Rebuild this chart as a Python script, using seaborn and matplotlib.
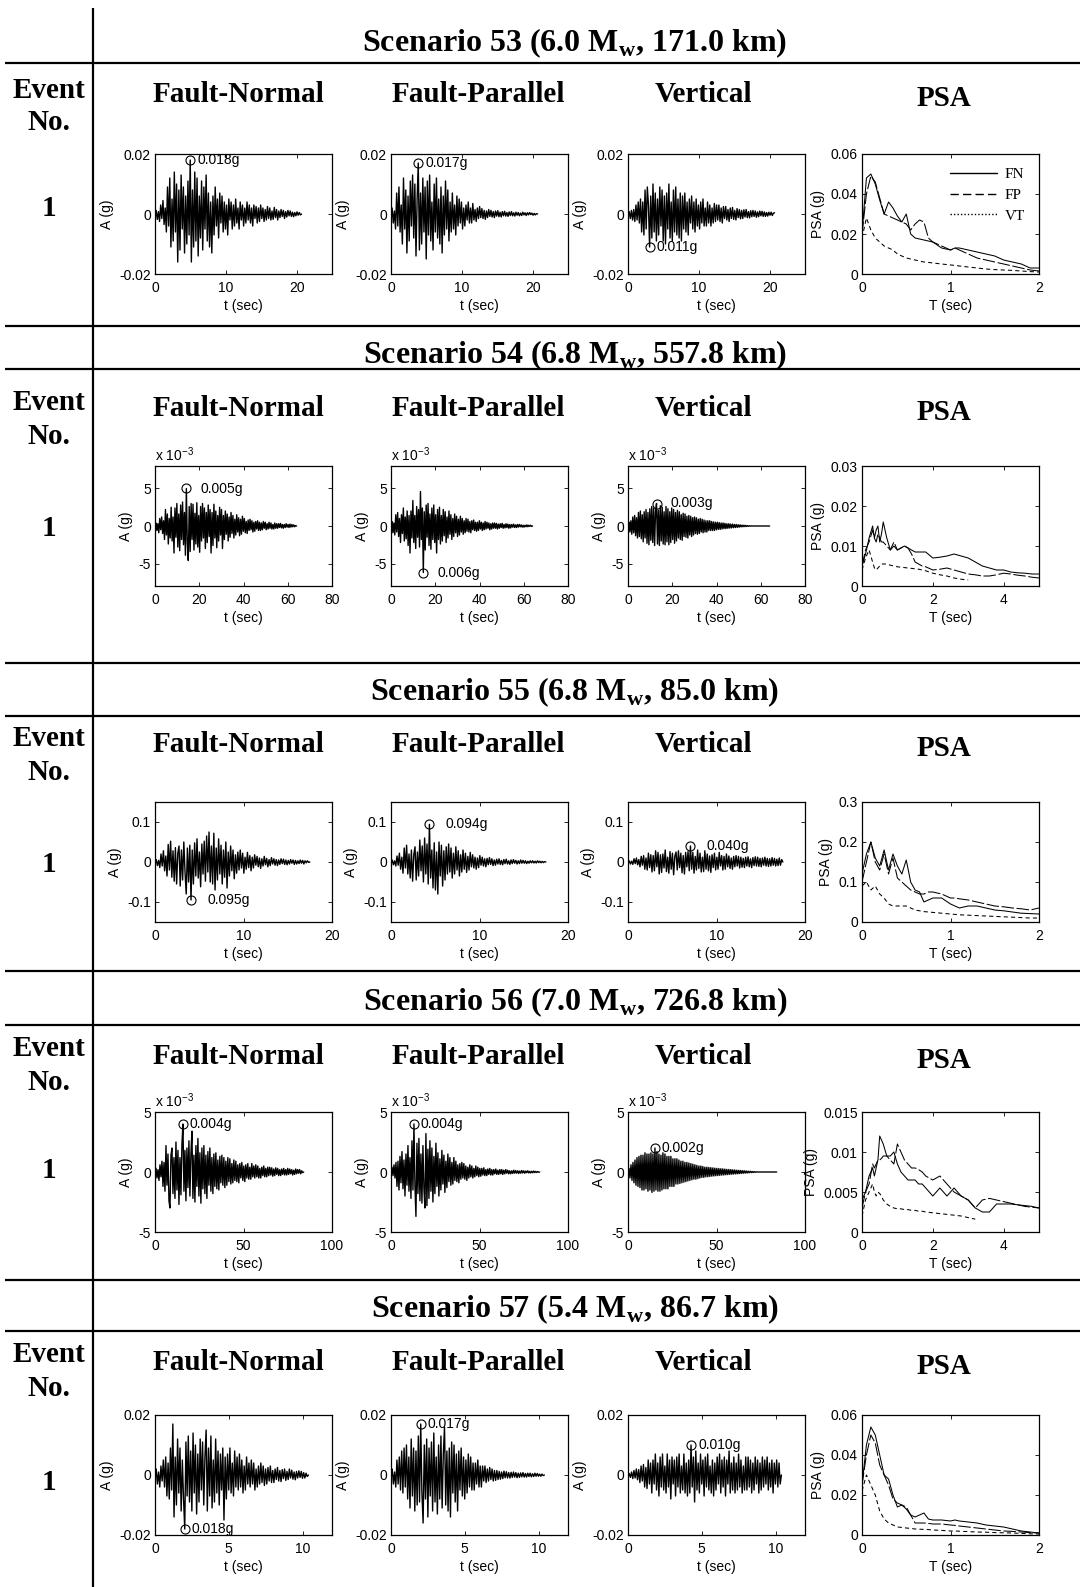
import numpy as np
import matplotlib
matplotlib.use("Agg")
import matplotlib.pyplot as plt
from matplotlib.lines import Line2D
from matplotlib.ticker import FuncFormatter
import seaborn as sns

# ------------------------------------------------------------------ data
TITLES = ["Scenario 53 (6.0 M$_{\\mathregular{w}}$, 171.0 km)",
          "Scenario 54 (6.8 M$_{\\mathregular{w}}$, 557.8 km)",
          "Scenario 55 (6.8 M$_{\\mathregular{w}}$, 85.0 km)",
          "Scenario 56 (7.0 M$_{\\mathregular{w}}$, 726.8 km)",
          "Scenario 57 (5.4 M$_{\\mathregular{w}}$, 86.7 km)"]
COL_HEADERS = ["Fault-Normal", "Fault-Parallel", "Vertical", "PSA"]
EVENT_NO = "1"

# record durations (s)
DURATIONS = [20.7, 64.0, 17.5, 84.0, 10.4]

# accelerations in milli-g (1e-3 g), equally spaced samples over each duration
S53_FN = [0, 1.2, -1.8, 0.8, -2.5, 3, -1.5, 4.5, -3.5, 2,
          -6, 9, -4, 12, -11, 5, -9, 14, -6, 10,
          -16, 8, -12, 13, -5, 9, -13, 6, -10, 11,
          -7, 18, -16, 8, -11, 14, -9, 12, -14, 6,
          -8, 11, -12, 9, -5, 13, -9, 7, -11, 4,
          -13, 6, -7, 9, -4, 5, -8, 7, -3, 6,
          -6, 4, -5, 3, -7, 5, -2, 4, -5, 3,
          -4, 5, -3, 2, -5, 4, -2, 3, -4, 2,
          -3, 4, -2, 3, -3, 2, -4, 3, -1.5, 2.5,
          -3, 2, -2.5, 3, -1.5, 2, -2.5, 1.5, -2, 2.5,
          -1.5, 2, -2, 1, -1.8, 2.2, -1.2, 1.5, -2, 1,
          -1.2, 1.5, -0.8, 1.2, -1.5, 0.8, -1, 1.2, -0.6, 1,
          -0.8, 0.6, -0.9, 0.5, -0.6, 0.7, -0.4, 0.5, -0.3, 0]
S53_FP = [0, 2, -3, 1, -5, 7, -4, 9, -6, 3,
          -10, 12, -5, 8, -13, 6, -9, 11, -4, 13,
          -8, 10, -14, 5, 17, -12, 7, -10, 12, -6,
          9, -15, 11, -7, 13, -9, 4, -12, 10, -6,
          12, -8, 5, -10, 9, -13, 6, -7, 11, -5,
          8, -9, 4, -6, 7, -5, 3, -7, 6, -4,
          5, -3, 4, -5, 2, -4, 3, -2, 4, -3,
          2, -3, 3.5, -2, 1.5, -2.5, 2, -1.5, 2.5, -1.2,
          1.8, -1.5, 1.2, -1.8, 1, -1.2, 1.5, -0.8, 1.2, -1,
          0.8, -1.2, 1, -0.7, 1.1, -0.9, 0.6, -1, 0.8, -0.6,
          0.9, -0.7, 0.5, -0.8, 0.7, -0.5, 0.8, -0.6, 0.4, -0.7,
          0.6, -0.4, 0.5, -0.6, 0.3, -0.5, 0.6, -0.3, 0.4, -0.5,
          0.4, -0.3, 0.5, -0.2, 0.3, -0.4, 0.2, -0.3, 0.1, 0]
S53_VT = [0, 0.8, -1.5, 1.2, -2, 1.5, -2.5, 3, -2, 4,
          -3, 5, -6, 4, -7, 8, -5, 9, 3, -11,
          6, -8, 10, -6, 7, -9, 5, -7, 9, -4,
          8, -9, 6, -10, 7, -5, 10, -8, 4, -9,
          8, -6, 9, -7, 5, -8, 7, -9, 6, -5,
          7, -6, 4, -7, 5, -3, 6, -5, 4, -6,
          5, -4, 3, -5, 4, -3, 5, -4, 2, -4,
          4, -3, 3, -4, 2, -3, 3.5, -2.5, 3, -2,
          3, -2.5, 2, -3, 2.5, -1.5, 2.5, -2, 1.5, -2.5,
          2, -1.5, 2.2, -1.8, 1.2, -2, 1.8, -1.2, 1.5, -1.6,
          1.2, -1.5, 1.4, -1, 1.5, -1.2, 0.8, -1.3, 1.1, -0.9,
          1.2, -0.8, 1, -1.1, 0.7, -0.9, 1, -0.6, 0.9, -0.8,
          0.7, -0.8, 0.5, -0.7, 0.6, -0.4, 0.6, -0.5, 0.3, 0.4]

S54_FN = [0, 0.4, -0.6, 0.3, -0.9, 1, -0.5, 1.2, -1, 0.7,
          -1.8, 2.2, -1.2, 1.6, -2.4, 1, -1.6, 2.5, -2, 1.2,
          -3.6, 2.4, -1.5, 3, -2.8, 1.6, -3.3, 2.8, -1.8, 3.2,
          -2.5, 1.8, -3.9, 5, -2.2, -4.6, 2.6, -3.4, 3, -1.8,
          2.9, -3.2, 1.7, -2.4, 3.1, -2.8, 1.4, -3.5, 2.6, -2,
          3, -1.6, 2.4, -3, 1.8, -2.2, 2.8, -1.4, 2.2, -3.6,
          1.8, -2.6, 2.9, -1.6, 2, -2.9, 1.4, -2, 2.5, -1.2,
          2.2, -3, 1.4, -1.8, 2, -1.1, 1.6, -2, 1.2, -1.5,
          1.8, -1, 1.4, -1.6, 0.9, -1.2, 1.5, -0.8, 1.1, -1.3,
          0.9, -1.1, 1.3, -0.7, 1, -0.9, 0.6, -1, 0.8, -0.6,
          0.9, -0.5, 0.7, -0.8, 0.5, -0.7, 0.6, -0.4, 0.7, -0.6,
          0.5, -0.6, 0.4, -0.5, 0.6, -0.3, 0.5, -0.5, 0.3, -0.4,
          0.5, -0.3, 0.4, -0.4, 0.2, -0.4, 0.4, -0.3, 0.3, -0.3,
          0.3, -0.2, 0.35, -0.25, 0.2, -0.3, 0.2, -0.2, 0.3, -0.15,
          0.2, -0.2, 0.25, -0.15, 0.2, -0.1, 0.15, -0.1, 0.05, 0]
S54_FP = [0, 0.6, -0.9, 0.4, -1.2, 1.5, -0.8, 1.8, -1.4, 1,
          -2.2, 1.5, -1, 2.4, -2, 1.2, -1.7, 2, -2.6, 1.4,
          -3.6, 2, -1.6, 3.4, -2.2, 1.4, -3, 2.6, -1.5, 2.2,
          -2.8, 4.6, -1.8, 2.4, -6.2, 1.9, -3.2, 2.8, -1.5, 3,
          -2.6, 1.6, -3.1, 2.4, -1.8, 2.8, -2.2, 1.5, -3.6, 2.2,
          -1.8, 2.5, -2.4, 1.4, -2, 2.2, -1.3, 1.9, -2.2, 1.2,
          -1.6, 2, -1.1, 1.5, -1.8, 1, -1.4, 1.6, -0.9, 1.3,
          -1.4, 0.9, -1.2, 1.3, -0.8, 1, -1.1, 0.7, -0.9, 1,
          -0.7, 0.9, -0.8, 0.6, -0.9, 0.7, -0.5, 0.8, -0.6, 0.5,
          -0.7, 0.5, -0.6, 0.7, -0.4, 0.5, -0.6, 0.4, -0.5, 0.6,
          -0.4, 0.5, -0.3, 0.4, -0.5, 0.3, -0.4, 0.4, -0.3, 0.4,
          -0.3, 0.35, -0.4, 0.25, -0.3, 0.3, -0.2, 0.35, -0.3, 0.2,
          -0.25, 0.3, -0.2, 0.25, -0.3, 0.2, -0.25, 0.2, -0.15, 0.25,
          -0.2, 0.15, -0.2, 0.2, -0.15, 0.2, -0.1, 0.15, -0.15, 0.1,
          -0.15, 0.1, -0.1, 0.15, -0.1, 0.1, -0.05, 0.1, -0.05, 0]
S54_VT = [0, 0.5, -0.8, 0.7, -1.1, 1.2, -0.9, 1.4, -1.3, 1.1,
          -1.6, 1.8, -1.4, 2, -1.7, 1.5, -2.1, 1.9, -1.6, 2.2,
          -2.3, 1.8, -2.5, 2.3, -1.9, 2.6, -2.2, 2.4, -2.6, 2,
          3, -2.4, 2.1, -2.6, 2.7, -2, 2.5, -2.4, 1.9, -2.5,
          2.6, -2.1, 2.3, -2.5, 1.9, -2.2, 2.4, -1.8, 2.2, -2.3,
          1.8, -2, 2.1, -1.6, 1.9, -1.8, 1.5, -1.9, 1.7, -1.4,
          1.6, -1.5, 1.3, -1.6, 1.4, -1.2, 1.3, -1.4, 1.1, -1.2,
          1.2, -1, 1.1, -1.1, 0.9, -1, 1, -0.8, 0.9, -0.9,
          0.8, -0.8, 0.7, -0.8, 0.7, -0.6, 0.7, -0.6, 0.6, -0.6,
          0.55, -0.6, 0.5, -0.5, 0.5, -0.45, 0.45, -0.45, 0.4, -0.4,
          0.4, -0.35, 0.35, -0.35, 0.3, -0.3, 0.3, -0.28, 0.25, -0.25,
          0.25, -0.22, 0.2, -0.2, 0.2, -0.18, 0.16, -0.15, 0.15, -0.12,
          0.12, -0.1, 0.1, -0.08, 0.08, -0.06, 0.05, -0.04, 0.03, -0.02,
          0.02, 0, 0, 0, 0, 0, 0, 0, 0, 0,
          0, 0, 0, 0, 0, 0, 0, 0, 0, 0]

S55_FN = [0, 6, -9, 4, -14, 20, -10, 28, -22, 15,
          -35, 44, -20, 52, -38, 28, -48, 36, -55, 22,
          40, -60, 30, -45, 50, -25, -80, 35, -50, 42,
          -95, 30, -55, 48, -35, 58, -40, 25, -62, 45,
          -30, 52, -48, 65, -25, 75, -50, 40, -55, 72,
          -70, 35, -45, 58, -30, 42, -55, 30, -38, 50,
          -65, 25, -35, 40, -22, 30, -42, 18, -28, 25,
          -20, 30, -15, 22, -28, 12, -18, 24, -14, 16,
          -22, 12, -15, 18, -8, 14, -12, 10, -16, 8,
          -10, 14, -7, 9, -12, 6, -9, 11, -5, 8,
          -8, 6, -9, 5, -6, 8, -4, 7, -6, 5,
          -7, 4, -5, 6, -3, 5, -6, 4, -5, 3,
          -4, 5, -3, 4, -5, 3, -2, 3, -1, 0]
S55_FP = [0, 5, -7, 3, -10, 15, -8, 22, -18, 12,
          -28, 35, -15, 42, -30, 20, -40, 30, -48, 18,
          38, -45, 25, -35, 55, -22, 40, -50, 60, -30,
          45, -55, 94, -40, 30, -65, 48, -70, 25, -80,
          50, -35, 42, -60, 28, -45, 38, -30, 45, -25,
          35, -40, 22, -30, 38, -20, 28, -35, 18, -25,
          30, -18, 22, -26, 14, -20, 24, -12, 18, -15,
          12, -18, 10, -14, 16, -8, 12, -10, 8, -12,
          9, -7, 11, -6, 8, -9, 5, -8, 7, -5,
          8, -6, 4, -7, 6, -4, 7, -5, 3, -6,
          5, -4, 6, -3, 4, -5, 3, -4, 5, -3,
          4, -3, 3, -4, 2, -3, 3, -2, 3, -2.5,
          2, -2.5, 3, -1.5, 2, -2, 1.5, -1.5, 1, 0]
S55_VT = [0, 3, -5, 2, -6, 8, -4, 10, -7, 6,
          -12, 14, -8, 16, -18, 10, -20, 22, -14, 18,
          -25, 16, -22, 28, -12, 24, -30, 18, -26, 20,
          -15, 30, -24, 12, -28, 26, -18, 22, -32, 14,
          25, -20, 28, -14, 22, -27, 16, -30, 24, -12,
          26, -22, 40, -18, 24, -28, 14, -20, 30, -16,
          22, -25, 12, -24, 28, -18, 20, -22, 15, -26,
          18, -14, 22, -20, 12, -18, 24, -10, 16, -20,
          14, -18, 20, -12, 15, -16, 10, -18, 14, -12,
          16, -10, 14, -15, 12, -13, 9, -14, 12, -10,
          13, -12, 8, -14, 11, -9, 13, -10, 12, -11,
          9, -12, 10, -8, 12, -10, 9, -11, 8, -10,
          11, -8, 9, -10, 7, -9, 10, -8, 6, 0]

S56_FN = [0, 0.3, -0.5, 0.2, -0.7, 0.6, -0.4, 0.9, -1.2, 0.8,
          -1.6, 2.2, -1.1, 1.5, -2.4, -3, 1.4, 2, -1.8, 1.2,
          -2.2, 2.5, -1.5, 1.8, -2.7, 1.2, -1.9, 2.3, 4, -1.6,
          1.8, -2.4, 2, -1.3, 2.6, -2, 1.5, 3.4, -2.2, 1.4,
          -2.5, 2.2, -1.2, 2.8, -2, 1.6, -2.6, 2, -1.4, 2.2,
          -1.8, 1.4, -2.2, 1.7, -1.1, 2, -1.6, 1.2, -1.8, 1.5,
          -1.2, 1.6, -1.4, 1, -1.5, 1.3, -0.9, 1.4, -1.1, 1.2,
          -1.3, 0.9, -1.1, 1.2, -0.8, 1.1, -1, 0.7, -0.9, 1,
          -0.7, 0.9, -0.8, 0.6, -0.9, 0.7, -0.5, 0.8, -0.7, 0.5,
          -0.8, 0.6, -0.5, 0.7, -0.6, 0.4, -0.6, 0.7, -0.4, 0.5,
          -0.5, 0.6, -0.4, 0.5, -0.5, 0.3, -0.5, 0.4, -0.3, 0.5,
          -0.4, 0.3, -0.4, 0.4, -0.3, 0.4, -0.25, 0.35, -0.35, 0.25,
          -0.3, 0.35, -0.2, 0.3, -0.3, 0.2, -0.3, 0.25, -0.2, 0.3,
          -0.25, 0.2, -0.25, 0.3, -0.2, 0.25, -0.15, 0.2, -0.25, 0.15,
          -0.2, 0.25, -0.15, 0.2, -0.1, 0.2, -0.15, 0.1, -0.05, 0]
S56_FP = [0, 0.4, -0.3, 0.6, -0.5, 0.8, -1.2, 0.9, -1.5, 1.3,
          -0.9, 1.7, -1.4, 1, -2, 1.5, -1.1, 2.2, -1.6, 1.2,
          -2.2, 2.6, -1.5, 4, -1.2, -3.7, 2.4, -1.8, 2.8, -2.4,
          1.5, -2.6, 2.2, -1.4, -3, 3.2, -2.8, 1.9, -2.2, 2.6,
          -1.6, 2, -2.5, 1.3, -1.8, 2.4, -1.2, 1.6, -2, 1.1,
          -1.5, 1.8, -1, 1.4, -1.7, 0.9, -1.3, 1.5, -0.8, 1.2,
          -1.1, 0.8, -1, 1.2, -0.7, 0.9, -0.8, 0.6, -0.9, 0.7,
          -0.6, 0.8, -0.5, 0.7, -0.6, 0.5, -0.7, 0.4, -0.5, 0.6,
          -0.4, 0.5, -0.5, 0.3, -0.4, 0.5, -0.3, 0.4, -0.4, 0.3,
          -0.35, 0.3, -0.25, 0.35, -0.3, 0.2, -0.3, 0.25, -0.2, 0.3,
          -0.25, 0.2, -0.25, 0.2, -0.15, 0.25, -0.2, 0.15, -0.2, 0.2,
          -0.15, 0.2, -0.2, 0.15, -0.15, 0.2, -0.1, 0.15, -0.15, 0.1,
          -0.15, 0.1, -0.12, 0.15, -0.1, 0.12, -0.1, 0.1, -0.12, 0.08,
          -0.1, 0.12, -0.08, 0.1, -0.1, 0.08, -0.06, 0.1, -0.08, 0.06,
          -0.08, 0.06, -0.06, 0.08, -0.05, 0.05, -0.04, 0.04, -0.02, 0]
S56_VT = [0, 0.3, -0.5, 0.6, -0.7, 0.8, -0.9, 1, -1.1, 1.2,
          -1.2, 1.3, -1.3, 1.4, -1.5, 1.4, -1.5, 1.6, -1.4, 1.5,
          -1.6, 1.5, -1.5, 1.6, -1.7, 1.5, -1.6, 2, -1.5, 1.7,
          -1.6, 1.5, -1.6, 1.4, -1.5, 1.6, -1.4, 1.5, -1.4, 1.3,
          -1.4, 1.3, -1.2, 1.3, -1.2, 1.1, -1.2, 1.1, -1, 1.1,
          -1, 1, -0.95, 0.9, -0.9, 0.9, -0.85, 0.8, -0.8, 0.8,
          -0.75, 0.75, -0.7, 0.7, -0.65, 0.65, -0.6, 0.6, -0.6, 0.55,
          -0.55, 0.5, -0.5, 0.5, -0.45, 0.45, -0.45, 0.4, -0.4, 0.4,
          -0.4, 0.38, -0.37, 0.36, -0.35, 0.34, -0.33, 0.32, -0.31, 0.3,
          -0.3, 0.29, -0.28, 0.27, -0.26, 0.26, -0.25, 0.24, -0.23, 0.22,
          -0.22, 0.21, -0.2, 0.2, -0.19, 0.18, -0.17, 0.17, -0.16, 0.15,
          -0.15, 0.14, -0.13, 0.13, -0.12, 0.11, -0.1, 0.1, -0.09, 0.08,
          -0.08, 0.07, -0.06, 0.06, -0.05, 0.04, -0.04, 0.03, -0.02, 0.01,
          0, 0, 0, 0, 0, 0, 0, 0, 0, 0,
          0, 0, 0, 0, 0, 0, 0, 0, 0, 0]

S57_FN = [0, 2, -3, 1, -4, 3, -2, 5, -4, 6,
          -7, 4, -8, 9, -5, 17, -14, 6, -10, 12,
          -6, 9, -12, 5, -8, -18, 11, -7, 13, -9,
          8, -12, 14, -6, 10, -13, 7, -9, 12, -5,
          11, -10, 6, 15, -12, 9, -7, 13, -11, 5,
          -9, 12, -6, 8, -10, 7, -5, 9, -15, 6,
          -8, 7, -5, 9, -6, 4, -7, 8, -4, 6,
          -5, 7, -4, 5, -6, 3, -5, 6, -3, 4,
          -4, 5, -3, 4, -5, 2, -4, 3, -3, 4,
          -2.5, 3, -3.5, 2, -3, 2.5, -2, 3, -2.5, 1.5,
          -2.5, 2, -1.5, 2.5, -2, 1.5, -2.2, 1.8, -1.2, 2,
          -1.8, 1.2, -1.5, 2, -1, 1.6, -1.4, 1, -1.6, 1.2,
          -1, 1.4, -0.8, 1.2, -1.1, 0.8, -1, 0.6, -0.5, 0]
S57_FP = [0, 2, -3, 1, -4, 5, -3, 6, -5, 8,
          -6, 9, -4, 10, -8, 6, -11, 12, -7, 9,
          -12, 8, -10, 13, -9, 17, -6, -16, 10, -8,
          12, -14, 9, -7, 11, -12, 14, -9, 6, -13,
          10, -8, 13, -11, 7, 16, -10, 8, -12, 9,
          -14, 11, -6, 10, -9, 7, -12, 8, -5, 9,
          -7, 6, -8, 5, -6, 7, -4, 6, -5, 4,
          -5, 4, -3, 5, -4, 3, -4, 3, -2, 3,
          -2.5, 2, -2, 2.5, -1.5, 2, -2, 1.5, -1.8, 1.5,
          -1.5, 1.2, -1.4, 1, -1.2, 1.3, -0.9, 1.1, -1, 0.8,
          -1, 0.9, -0.8, 1, -0.7, 0.8, -0.9, 0.6, -0.8, 0.7,
          -0.6, 0.8, -0.7, 0.5, -0.7, 0.6, -0.5, 0.6, -0.6, 0.4,
          -0.5, 0.6, -0.4, 0.5, -0.4, 0.3, -0.4, 0.3, -0.2, 0]
S57_VT = [0, 0.5, -0.8, 1, -1.2, 1.5, -1, 2, -1.6, 1.8,
          -2.5, 3, -2, 3.5, -4, 2.5, -4.5, 5, -3, 4,
          -6, 5, -3, 7, -5, 4, -7, 6, -4, 7,
          -5, 3, -6, 7, -4, 5, -8, 6, -3, 5,
          -7, 6, -4, 7, -6, 3, -5, 7, -6, 4,
          -7, 5, -6, 10, -4, 6, -9, 8, -5, 4,
          -6, 7, -3, 5, -7, 6, -4, 7, -5, 3,
          -6, 5, -7, 4, -5, 6, -3, 7, -6, 5,
          -4, 6, -7, 5, -3, 8, -6, 4, -5, 6,
          -6, 4, -5, 7, -4, 5, -6, 3, -5, 6,
          -5, 6, -4, 5, -6, 4, -5, 6, -3, 5,
          -6, 4, -5, 6, -4, 5, -3, 6, -5, 4,
          -4, 5, -6, 4, -3, 5, -4, 4, -3, 0]

# PSA periods (s)
PSA_T_SHORT = [0, 0.05, 0.1, 0.15, 0.2, 0.25, 0.3, 0.35, 0.4, 0.45,
               0.5, 0.55, 0.6, 0.65, 0.7, 0.75, 0.8, 0.9, 1.0, 1.05,
               1.1, 1.2, 1.3, 1.4, 1.5, 1.6, 1.7, 1.8, 1.9, 2.0]
PSA_T_LONG = [0, 0.1, 0.2, 0.3, 0.35, 0.4, 0.45, 0.5, 0.55, 0.6,
              0.7, 0.8, 0.9, 1.0, 1.1, 1.2, 1.3, 1.4, 1.5, 1.6,
              1.7, 1.8, 2.0, 2.2, 2.4, 2.6, 2.8, 3.0, 3.2, 3.4,
              3.6, 3.8, 4.0, 4.2, 4.4, 4.6, 4.8, 5.0]
NAN = float("nan")

S53_PSA_FN = [.020, .048, .050, .045, .037, .030, .036, .033, .029, .026,
              .030, .020, .018, .0175, .017, .0165, .016, .013, .012, .013,
              .013, .012, .011, .010, .009, .007, .006, .005, .003, .003]
S53_PSA_FP = [.020, .040, .049, .046, .038, .030, .029, .028, .027, .026,
              .025, .022, .025, .027, .026, .018, .016, .014, .012, .013,
              .012, .010, .008, .007, .006, .005, .004, .003, .002, .0015]
S53_PSA_VT = [.018, .028, .022, .018, .016, .014, .013, .012, .010, .009,
              .008, .0075, .007, .0065, .006, .0058, .0055, .005, .0045, .0043,
              .004, .0035, .003, .0025, .0022, .002, .0018, .0015, .0012, .001]

S54_PSA_FN = [.005, .008, .012, .015, .012, .014, .015, .011, .013, .016,
              .012, .009, .010, .009, .0095, .010, .0095, .009, .0085, .0085,
              .0085, .0085, .007, .0072, .0075, .008, .0075, .007, .006, .005,
              .0045, .004, .004, .0035, .0033, .0032, .003, .003]
S54_PSA_FP = [.005, .009, .011, .014, .012, .011, .013, .012, .011, .011,
              .010, .009, .011, .009, .0095, .010, .0095, .008, .006, .0055,
              .005, .0048, .004, .0042, .0045, .004, .0035, .003, .0028, .0025,
              .0025, .0028, .0032, .003, .0027, .0025, .0022, .002]
S54_PSA_VT = [.004, .007, .009, .006, .0045, .004, .0045, .005, .0055, .0055,
              .0055, .0052, .005, .0048, .0047, .0046, .0045, .0044, .0043, .0042,
              .004, .0038, .0032, .0028, .0025, .002, .0017, .0015, NAN, NAN,
              NAN, NAN, NAN, NAN, NAN, NAN, NAN, NAN]

S55_PSA_FN = [.12, .17, .20, .16, .14, .18, .13, .17, .14, .12,
              .155, .10, .08, .075, .05, .055, .06, .06, .045, .04,
              .035, .04, .04, .035, .03, .028, .025, .022, .021, .02]
S55_PSA_FP = [.10, .15, .20, .15, .13, .17, .12, .16, .11, .10,
              .09, .08, .075, .07, .07, .075, .075, .07, .06, .06,
              .058, .055, .05, .045, .04, .038, .035, .033, .03, .035]
S55_PSA_VT = [.09, .10, .08, .09, .07, .06, .045, .04, .04, .04,
              .04, .035, .03, .028, .026, .025, .024, .022, .02, .019,
              .018, .017, .016, .015, .014, .013, .012, .011, .01, .01]

S56_PSA_FN = [.004, .005, .007, .008, .007, .008, .009, .012, .0115, .011,
              .0095, .0095, .010, .0085, .0075, .007, .0065, .0065, .0065, .006,
              .006, .0055, .0045, .0055, .0045, .0055, .0045, .004, .003, .0025,
              .0025, .0035, .0035, .0035, .0034, .0033, .0032, .003]
S56_PSA_FP = [.003, .005, .006, .0085, .008, .0085, .009, .009, .0092, .0095,
              .0095, .009, .0085, .011, .010, .009, .0085, .008, .008, .0078,
              .0075, .007, .0065, .007, .006, .005, .0045, .004, .003, .004,
              .0042, .004, .0038, .0036, .0034, .0032, .0031, .003]
S56_PSA_VT = [.002, .004, .005, .006, .005, .0045, .005, .0048, .0045, .004,
              .0035, .0032, .003, .0029, .0029, .0028, .0028, .0027, .0027, .0026,
              .0026, .0025, .0024, .0023, .0022, .0021, .002, .0018, .0016, NAN,
              NAN, NAN, NAN, NAN, NAN, NAN, NAN, NAN]

S57_PSA_FN = [.025, .045, .054, .050, .040, .030, .028, .020, .014, .015,
              .013, .010, .009, .010, .011, .008, .0075, .0075, .007, .0075,
              .007, .0065, .006, .005, .0045, .004, .003, .002, .0015, .001]
S57_PSA_FP = [.025, .040, .050, .046, .035, .030, .025, .018, .016, .015,
              .014, .010, .006, .006, .006, .0058, .0055, .0055, .005, .0048,
              .0045, .004, .0035, .003, .0025, .002, .0018, .0015, .0012, .001]
S57_PSA_VT = [.022, .030, .025, .020, .012, .008, .006, .005, .004, .0038,
              .0035, .0033, .003, .0029, .0028, .0027, .0025, .0023, .002, .002,
              .0019, .0017, .0015, .0014, .0012, .0011, .001, .0008, .0006, .0005]

# axis settings / tick labels
TRACE_XLIM = [25, 80, 20, 100, 12]
TRACE_XTICKS = [[0, 10, 20], [0, 20, 40, 60, 80], [0, 10, 20], [0, 50, 100], [0, 5, 10]]
TRACE_YLIM = [0.02, 8, 0.15, 5, 0.02]
TRACE_YTICKS = [[-0.02, 0, 0.02], [-5, 0, 5], [-0.1, 0, 0.1], [-5, 0, 5], [-0.02, 0, 0.02]]
MILLI_AXIS = [False, True, False, True, False]
PSA_XLIM = [2, 5, 2, 5, 2]
PSA_XTICKS = [[0, 1, 2], [0, 2, 4], [0, 1, 2], [0, 2, 4], [0, 1, 2]]
PSA_YLIM = [0.06, 0.03, 0.3, 0.015, 0.06]
PSA_YTICKS = [[0, 0.02, 0.04, 0.06], [0, 0.01, 0.02, 0.03], [0, 0.1, 0.2, 0.3],
              [0, 0.005, 0.01, 0.015], [0, 0.02, 0.04, 0.06]]
LEGEND_LABELS = ["FN", "FP", "VT"]

TRACES = [(S53_FN, S53_FP, S53_VT), (S54_FN, S54_FP, S54_VT), (S55_FN, S55_FP, S55_VT),
          (S56_FN, S56_FP, S56_VT), (S57_FN, S57_FP, S57_VT)]
PSA_T = [PSA_T_SHORT, PSA_T_LONG, PSA_T_SHORT, PSA_T_LONG, PSA_T_SHORT]
PSA_SETS = [(S53_PSA_FN, S53_PSA_FP, S53_PSA_VT), (S54_PSA_FN, S54_PSA_FP, S54_PSA_VT),
            (S55_PSA_FN, S55_PSA_FP, S55_PSA_VT), (S56_PSA_FN, S56_PSA_FP, S56_PSA_VT),
            (S57_PSA_FN, S57_PSA_FP, S57_PSA_VT)]

# ------------------------------------------------------------------ layout (pixels)
W, H = 1080, 1587
ROW_TOPS = [154, 466, 802, 1112, 1415]
COL_LEFTS = [155, 391, 628, 862]
AX_W, AX_H = 177, 120
TITLE_X = 575
TITLE_Y = [43, 355, 692, 1002, 1309]
COLHEAD_X = [238, 478, 703, 944]
COLHEAD_Y = [95, 409, 745, 1056, 1362]
EVENT_Y = [90, 403, 739, 1049, 1355]
NO_Y = [122, 437, 772, 1082, 1389]
ONE_Y = [209, 528, 865, 1170, 1482]
HLINES = [63, 326, 369, 663, 716, 971, 1025, 1280, 1331]
LABEL_GAP = [7, 14, 16, 7, 7]
PSA_STYLES = ["-", (0, (12, 2.5)), (0, (4, 3))]

# ------------------------------------------------------------------ style
sns.set_style("ticks")
plt.rcParams["font.family"] = ["Liberation Sans", "DejaVu Sans"]
plt.rcParams.update({
    "font.size": 10,
    "axes.linewidth": 0.9,
    "axes.edgecolor": "black",
    "xtick.direction": "in", "ytick.direction": "in",
    "xtick.top": True, "ytick.right": True,
    "xtick.major.size": 3, "ytick.major.size": 3,
    "xtick.major.width": 0.6, "ytick.major.width": 0.6,
    "xtick.labelsize": 10, "ytick.labelsize": 10,
    "xtick.color": "black", "ytick.color": "black",
    "axes.labelsize": 10, "axes.labelcolor": "black",
    "text.color": "black",
})

fmt = FuncFormatter(lambda v, p: f"{round(v, 6):g}")

fig = plt.figure(figsize=(W / 100, H / 100), dpi=100)

bg = fig.add_axes([0, 0, 1, 1])
bg.set_xlim(0, W)
bg.set_ylim(H, 0)
bg.axis("off")
bg.hlines(HLINES, 5, W, color="black", lw=1.6)
bg.vlines(93, 8, H, color="black", lw=1.6)

serif = dict(fontfamily="Liberation Serif", fontweight="bold", ha="center", va="center")


def make_axes(col, row):
    left = COL_LEFTS[col] / W
    bottom = 1 - (ROW_TOPS[row] + AX_H) / H
    ax = fig.add_axes([left, bottom, AX_W / W, AX_H / H])
    ax.tick_params(axis="x", pad=5)
    ax.tick_params(axis="y", pad=3)
    for s in ax.spines.values():
        s.set_visible(True)
        s.set_color("black")
    return ax


for r in range(5):
    bg.text(TITLE_X, TITLE_Y[r], TITLES[r], fontsize=23, **serif)
    for c in range(4):
        dy = 4 if c == 3 else 0
        bg.text(COLHEAD_X[c], COLHEAD_Y[r] + dy, COL_HEADERS[c], fontsize=21, **serif)
    bg.text(49, EVENT_Y[r], "Event", fontsize=21, **serif)
    bg.text(49, NO_Y[r], "No.", fontsize=21, **serif)
    bg.text(49, ONE_Y[r], EVENT_NO, fontsize=21, **serif)

    # time histories
    for c in range(3):
        ax = make_axes(c, r)
        v = np.asarray(TRACES[r][c], dtype=float)
        y = v if MILLI_AXIS[r] else v / 1000.0
        t = np.linspace(0, DURATIONS[r], len(v))
        sns.lineplot(x=t, y=y, ax=ax, color="black", linewidth=1.0,
                     estimator=None, sort=False)
        i = int(np.argmax(np.abs(v)))
        ax.plot(t[i], y[i], "o", mfc="none", mec="black", ms=6.5, mew=0.8)
        ax.annotate(f"{abs(v[i]) / 1000:.3f}g", (t[i], y[i]),
                    xytext=(LABEL_GAP[r], 0), textcoords="offset pixels",
                    ha="left", va="center", fontsize=10)
        ax.set_xlim(0, TRACE_XLIM[r])
        ax.set_xticks(TRACE_XTICKS[r])
        ax.set_ylim(-TRACE_YLIM[r], TRACE_YLIM[r])
        ax.set_yticks(TRACE_YTICKS[r])
        ax.xaxis.set_major_formatter(fmt)
        ax.yaxis.set_major_formatter(fmt)
        ax.set_xlabel("t (sec)", labelpad=3)
        ax.set_ylabel("A (g)", labelpad=4)
        if MILLI_AXIS[r]:
            ax.text(0, 1.015, "x 10$^{\\mathregular{-3}}$", transform=ax.transAxes,
                    ha="left", va="bottom", fontsize=10)

    # PSA
    ax = make_axes(3, r)
    T = np.asarray(PSA_T[r], dtype=float)
    for vals, ls in zip(PSA_SETS[r], PSA_STYLES):
        sns.lineplot(x=T, y=np.asarray(vals, dtype=float), ax=ax, color="black",
                     linewidth=0.75, linestyle=ls, estimator=None, sort=False)
    ax.set_xlim(0, PSA_XLIM[r])
    ax.set_xticks(PSA_XTICKS[r])
    ax.set_ylim(0, PSA_YLIM[r])
    ax.set_yticks(PSA_YTICKS[r])
    ax.xaxis.set_major_formatter(fmt)
    ax.yaxis.set_major_formatter(fmt)
    ax.set_xlabel("T (sec)", labelpad=3)
    ax.set_ylabel("PSA (g)", labelpad=4)
    if r == 0:
        handles = [Line2D([], [], color="black", lw=1.0, ls="-"),
                   Line2D([], [], color="black", lw=1.0, ls=(0, (6, 3))),
                   Line2D([], [], color="black", lw=1.0, ls=(0, (1, 1.5)))]
        ax.legend(handles, LEGEND_LABELS, loc="upper right", frameon=False,
                  prop={"family": "Liberation Serif", "size": 11},
                  handlelength=3.1, handletextpad=0.5, labelspacing=0.45,
                  borderaxespad=0.5)

fig.savefig("out.png", dpi=100)
